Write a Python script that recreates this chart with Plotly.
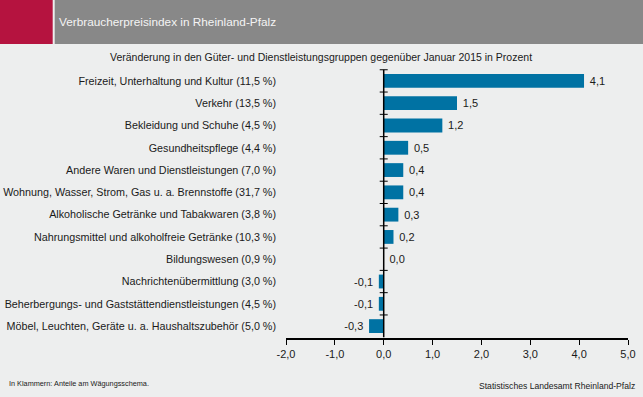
import plotly.graph_objects as go

categories = [
    "Freizeit, Unterhaltung und Kultur (11,5 %)",
    "Verkehr (13,5 %)",
    "Bekleidung und Schuhe (4,5 %)",
    "Gesundheitspflege (4,4 %)",
    "Andere Waren und Dienstleistungen (7,0 %)",
    "Wohnung, Wasser, Strom, Gas u. a. Brennstoffe (31,7 %)",
    "Alkoholische Getränke und Tabakwaren (3,8 %)",
    "Nahrungsmittel und alkoholfreie Getränke (10,3 %)",
    "Bildungswesen (0,9 %)",
    "Nachrichtenübermittlung (3,0 %)",
    "Beherbergungs- und Gaststättendienstleistungen (4,5 %)",
    "Möbel, Leuchten, Geräte u. a. Haushaltszubehör (5,0 %)",
]
values = [4.1, 1.5, 1.2, 0.5, 0.4, 0.4, 0.3, 0.2, 0.0, -0.1, -0.1, -0.3]
x_ticks = [-2, -1, 0, 1, 2, 3, 4, 5]

def de(v):
    return f"{v:.1f}".replace(".", ",")

def bar_label(v):
    # pad the label a little away from the bar end
    return f"{de(v)}\u2005" if v < 0 else f"\u2005{de(v)}"

FONT = "Liberation Sans, Arial, sans-serif"
TXT = "#1a1a1a"
BG = "#EDEEEE"

W, H = 643, 397
ML, MR, MT, MB = 286, 15, 69, 59

fig = go.Figure(go.Bar(
    x=values, y=categories, orientation="h",
    marker=dict(color="#0072A3", line=dict(width=0)),
    text=[bar_label(v) for v in values], textposition="outside",
    textfont=dict(family=FONT, size=11, color=TXT),
    cliponaxis=False, width=0.62,
))

n = len(categories)
shapes = []
shapes.append(dict(type="line", xref="x", yref="y", x0=0, x1=0, y0=-0.5, y1=n - 0.5,
                   line=dict(color="black", width=1.5)))
for i in range(n):
    shapes.append(dict(type="line", xref="x", yref="y", xsizemode="pixel", xanchor=0,
                       x0=-4, x1=4, y0=i - 0.5, y1=i - 0.5, line=dict(color="black", width=1)))

def px(x):
    return (x - ML) / (W - ML - MR)
def py(y):
    return (H - MB - y) / (H - MT - MB)

shapes.append(dict(type="rect", xref="paper", yref="paper", x0=px(0), x1=px(52.7), y0=py(44), y1=py(0),
                   fillcolor="#B5133F", line=dict(width=0)))
shapes.append(dict(type="rect", xref="paper", yref="paper", x0=px(54.7), x1=px(643), y0=py(44), y1=py(0),
                   fillcolor="#888888", line=dict(width=0)))

fig.update_layout(
    width=W, height=H,
    margin=dict(l=ML, r=MR, t=MT, b=MB, autoexpand=False),
    paper_bgcolor=BG, plot_bgcolor=BG,
    showlegend=False,
    xaxis=dict(range=[-2, 5], tickvals=x_ticks, ticktext=[de(v) for v in x_ticks],
               showgrid=False, zeroline=False, showline=True, linecolor="black", linewidth=2,
               ticks="outside", ticklen=5, tickcolor="black", tickwidth=1, automargin=False,
               tickfont=dict(family=FONT, size=11, color=TXT), fixedrange=True),
    yaxis=dict(autorange="reversed", showgrid=False, zeroline=False, showline=False,
               ticks="", ticklabelstandoff=9, automargin=False,
               tickfont=dict(family=FONT, size=10.75, color=TXT), fixedrange=True),
    shapes=shapes,
)

fig.add_annotation(text="Verbraucherpreisindex in Rheinland-Pfalz", xref="paper", yref="paper",
                   x=px(57), y=py(22.5), xanchor="left", yanchor="middle", showarrow=False,
                   font=dict(family=FONT, size=11.8, color="#f4f4f4"))
fig.add_annotation(text="Veränderung in den Güter- und Dienstleistungsgruppen gegenüber Januar 2015 in Prozent",
                   xref="paper", yref="paper", x=px(321), y=py(57), xanchor="center", yanchor="middle",
                   showarrow=False, font=dict(family=FONT, size=10.5, color=TXT))
fig.add_annotation(text="In Klammern: Anteile am Wägungsschema.", xref="paper", yref="paper",
                   x=px(7), y=py(383), xanchor="left", yanchor="middle", showarrow=False,
                   font=dict(family=FONT, size=7.3, color=TXT))
fig.add_annotation(text="Statistisches Landesamt Rheinland-Pfalz", xref="paper", yref="paper",
                   x=px(637), y=py(386), xanchor="right", yanchor="middle", showarrow=False,
                   font=dict(family=FONT, size=8.6, color=TXT))

fig.write_html("out.html", config={"displayModeBar": False})
with open("out.html", encoding="utf-8") as f:
    html = f.read()
html = html.replace("<body>", '<body style="margin:0;overflow:hidden">', 1)
with open("out.html", "w", encoding="utf-8") as f:
    f.write(html)
